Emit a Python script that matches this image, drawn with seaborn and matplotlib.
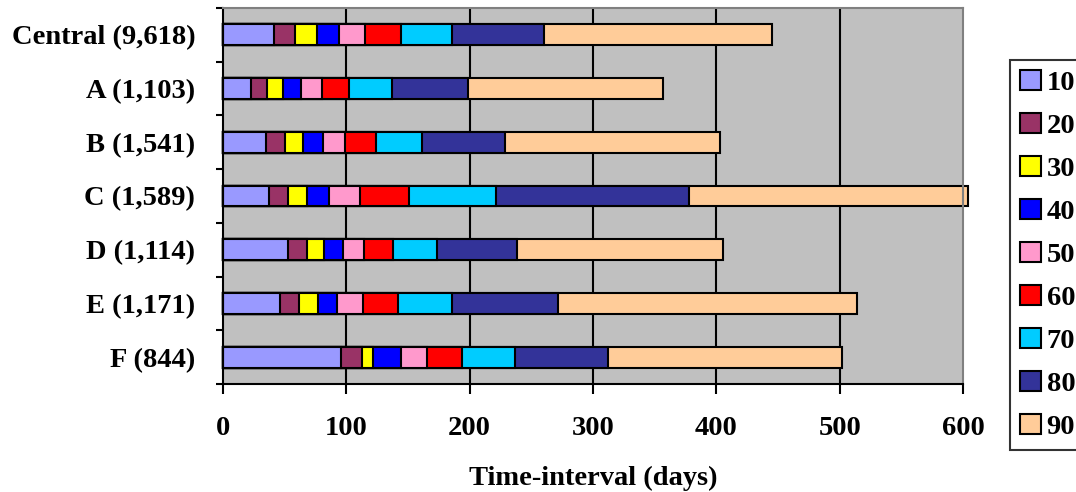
import matplotlib
matplotlib.use("Agg")
import matplotlib.pyplot as plt
from matplotlib.patches import Patch
from matplotlib.ticker import FixedLocator
import seaborn as sns
import pandas as pd

# Regions with their case counts
categories = ["Central (9,618)", "A (1,103)", "B (1,541)", "C (1,589)",
              "D (1,114)", "E (1,171)", "F (844)"]

# Days needed to reach each percentile, per region
p10 = [41.0, 23.0, 35.0, 37.5, 52.5, 46.0, 96.0]
p20 = [58.5, 36.0, 50.5, 53.0, 68.0, 62.0, 113.0]
p30 = [76.0, 48.5, 65.0, 68.0, 82.0, 77.0, 121.5]
p40 = [94.0, 63.0, 81.0, 86.0, 97.0, 92.5, 144.5]
p50 = [115.5, 80.5, 99.0, 111.0, 114.0, 113.5, 165.5]
p60 = [144.5, 102.5, 124.0, 151.0, 138.0, 141.5, 194.0]
p70 = [186.0, 137.0, 161.5, 221.5, 173.5, 186.0, 236.5]
p80 = [260.0, 198.5, 228.5, 378.0, 238.5, 271.5, 312.5]
p90 = [445.5, 356.5, 403.0, 604.0, 405.0, 514.0, 502.0]

percentile_labels = ["10", "20", "30", "40", "50", "60", "70", "80", "90"]
x_ticks = [0, 100, 200, 300, 400, 500, 600]

colors = ["#9999FF", "#993366", "#FFFF00", "#0000FF", "#FF99CC",
          "#FF0000", "#00CCFF", "#333399", "#FFCC99"]

series = [p10, p20, p30, p40, p50, p60, p70, p80, p90]

sns.set_style("white")
plt.rcParams["font.family"] = ["Liberation Serif", "DejaVu Serif"]
plt.rcParams["font.weight"] = "bold"
plt.rcParams["text.color"] = "black"
plt.rcParams["axes.labelcolor"] = "black"
plt.rcParams["xtick.color"] = "black"
plt.rcParams["ytick.color"] = "black"

W, H = 1076, 492
fig = plt.figure(figsize=(W / 100, H / 100), dpi=100)
ax = fig.add_axes([223 / W, 1 - 384 / H, (963 - 223) / W, (384 - 8) / H])
ax.set_facecolor("#C0C0C0")

# Vertical grid lines behind the bars
for xv in x_ticks[1:-1]:
    ax.axvline(xv, color="black", lw=1.5, zorder=0.5)

# Stacked look: draw cumulative bars from the longest to the shortest
for vals, lab, col in reversed(list(zip(series, percentile_labels, colors))):
    df = pd.DataFrame({"region": categories, "days": vals})
    sns.barplot(data=df, x="days", y="region", order=categories, orient="h",
                color=col, saturation=1, width=0.39, errorbar=None,
                edgecolor="black", linewidth=1.5, ax=ax, zorder=2)

for p in ax.patches:
    p.set_clip_on(False)

ax.set_xlim(0, 600)
ax.set_ylim(6.5, -0.5)
ax.set_xticks(x_ticks)
ax.set_xticklabels([str(t) for t in x_ticks])
ax.set_yticks(range(len(categories)))
ax.set_yticklabels(categories)
ax.yaxis.set_minor_locator(FixedLocator([i - 0.5 for i in range(len(categories) + 1)]))

ax.tick_params(axis="y", which="major", left=True, length=0, pad=20,
               labelsize=20.5, labelcolor="black")
ax.tick_params(axis="y", which="minor", left=True, length=5, width=1.5,
               color="black", direction="out")
ax.tick_params(axis="x", which="major", bottom=True, length=7, width=1.5,
               color="black", direction="out", pad=16, labelsize=20.5,
               labelcolor="black")
for lbl in ax.get_xticklabels() + ax.get_yticklabels():
    lbl.set_fontweight("bold")

ax.set_ylabel("")
ax.set_xlabel("Time-interval (days)", fontsize=20.5, fontweight="bold",
              color="black", labelpad=18)

for side in ("left", "bottom"):
    ax.spines[side].set_color("black")
    ax.spines[side].set_linewidth(1.5)
for side in ("top", "right"):
    ax.spines[side].set_color("#808080")
    ax.spines[side].set_linewidth(1.5)
    ax.spines[side].set_visible(True)

handles = [Patch(facecolor=c, edgecolor="black", linewidth=1.5, label=l)
           for c, l in zip(colors, percentile_labels)]
leg = fig.legend(handles=handles, loc="upper left",
                 bbox_to_anchor=(1010 / W, 1 - 60 / H),
                 bbox_transform=fig.transFigure,
                 prop={"family": "Liberation Serif", "weight": "bold", "size": 20.5},
                 frameon=True, fancybox=False, shadow=False,
                 handlelength=0.74, handleheight=0.7, handletextpad=0.2,
                 labelspacing=0.6, borderpad=0.35, borderaxespad=0)
leg.get_frame().set_edgecolor("black")
leg.get_frame().set_linewidth(1.5)
leg.get_frame().set_facecolor("white")
for t in leg.get_texts():
    t.set_color("black")

fig.savefig("out.png", dpi=100)
